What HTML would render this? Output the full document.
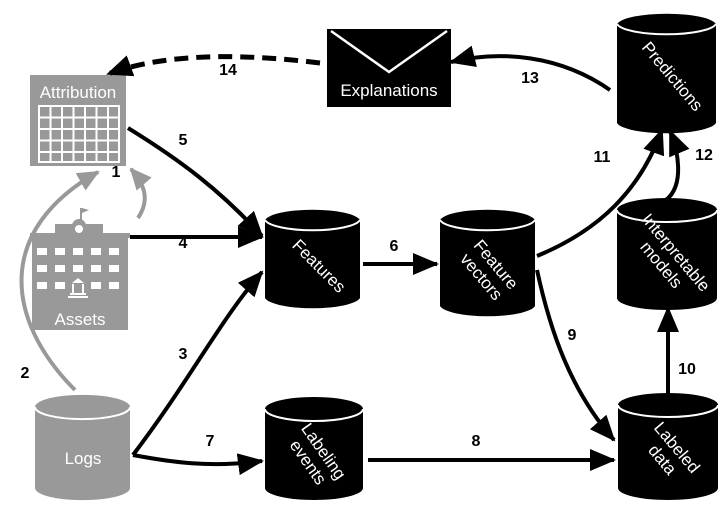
<!DOCTYPE html>
<html><head><style>
html,body{margin:0;padding:0;background:#fff;}
svg{display:block;font-family:"Liberation Sans",Arial,sans-serif;}
.n{font-size:16px;font-weight:bold;fill:#000;}
.c{font-size:17px;fill:#fff;}
</style></head><body>
<svg width="723" height="526" viewBox="0 0 723 526" xmlns="http://www.w3.org/2000/svg">
<defs>
<marker id="ahb" markerWidth="26" markerHeight="22" refX="24" refY="11" orient="auto" markerUnits="userSpaceOnUse"><path d="M0,0 L26,11 L0,22 z" fill="#000"/></marker>
<marker id="ahg" markerWidth="22" markerHeight="20" refX="20" refY="10" orient="auto" markerUnits="userSpaceOnUse"><path d="M0,0 L22,10 L0,20 z" fill="#999"/></marker>
</defs>

<!-- Grey arrow 2 behind -->
<path d="M75,390 C5,320 -5,230 98,172" fill="none" stroke="#999" stroke-width="4" marker-end="url(#ahg)"/>

<g id="cyls">
<path d="M35,407 A47,12 0 0 1 130,407 L130,488 A47,12 0 0 1 35,488 Z" fill="#999"/>
<path d="M35,407 A47,12 0 0 0 130,407" fill="none" stroke="#fff" stroke-width="2"/>
<text x="83" y="464" class="c" text-anchor="middle" font-size="19">Logs</text>

<path d="M265,409 A49,12 0 0 1 363,409 L363,488 A49,12 0 0 1 265,488 Z" fill="#000"/>
<path d="M265,409 A49,12 0 0 0 363,409" fill="none" stroke="#fff" stroke-width="2"/>
<text transform="translate(314,458) rotate(55)" class="c" text-anchor="middle"><tspan x="0" y="-6">Labeling</tspan><tspan x="0" y="13">events</tspan></text>

<path d="M618,405 A50,12 0 0 1 718,405 L718,488 A50,12 0 0 1 618,488 Z" fill="#000"/>
<path d="M618,405 A50,12 0 0 0 718,405" fill="none" stroke="#fff" stroke-width="2"/>
<text transform="translate(668,455) rotate(50)" class="c" text-anchor="middle"><tspan x="0" y="-6">Labeled</tspan><tspan x="0" y="13">data</tspan></text>

<path d="M265,220 A48,12 0 0 1 360,220 L360,298 A48,12 0 0 1 265,298 Z" fill="#000"/>
<path d="M265,220 A48,12 0 0 0 360,220" fill="none" stroke="#fff" stroke-width="2"/>
<text transform="translate(315,270) rotate(45)" class="c" text-anchor="middle">Features</text>

<path d="M440,220 A48,12 0 0 1 535,220 L535,306 A48,12 0 0 1 440,306 Z" fill="#000"/>
<path d="M440,220 A48,12 0 0 0 535,220" fill="none" stroke="#fff" stroke-width="2"/>
<text transform="translate(487,272) rotate(50)" class="c" text-anchor="middle"><tspan x="0" y="-6">Feature</tspan><tspan x="0" y="13">vectors</tspan></text>

<path d="M617,210 A50,12 0 0 1 717,210 L717,298 A50,12 0 0 1 617,298 Z" fill="#000"/>
<path d="M617,210 A50,12 0 0 0 717,210" fill="none" stroke="#fff" stroke-width="2"/>
<text transform="translate(667,260) rotate(50)" class="c" text-anchor="middle"><tspan x="0" y="-6">Interpretable</tspan><tspan x="0" y="13">models</tspan></text>

<path d="M617,24 A50,12 0 0 1 716,24 L716,123 A50,12 0 0 1 617,123 Z" fill="#000"/>
<path d="M617,24 A50,12 0 0 0 716,24" fill="none" stroke="#fff" stroke-width="2"/>
<text transform="translate(668,80) rotate(50)" class="c" text-anchor="middle">Predictions</text>
</g>

<!-- Explanations envelope -->
<rect x="327" y="29" width="124" height="78" fill="#000"/>
<path d="M331,31 L389,72 L447,31" fill="none" stroke="#fff" stroke-width="2.5"/>
<text x="389" y="96" class="c" text-anchor="middle" font-size="18">Explanations</text>

<!-- Attribution -->
<rect x="30" y="75" width="96" height="91" fill="#999"/>
<text x="78" y="98" class="c" text-anchor="middle" font-size="18">Attribution</text>
<rect x="38" y="105" width="82" height="58" fill="#fff"/>
<g fill="#999">
<rect x="40" y="107" width="9.5" height="9.5"/><rect x="51.5" y="107" width="9.5" height="9.5"/><rect x="63" y="107" width="9.5" height="9.5"/><rect x="74.5" y="107" width="9.5" height="9.5"/><rect x="86" y="107" width="9.5" height="9.5"/><rect x="97.5" y="107" width="9.5" height="9.5"/><rect x="109" y="107" width="9" height="9.5"/>
<rect x="40" y="118.5" width="9.5" height="9.5"/><rect x="51.5" y="118.5" width="9.5" height="9.5"/><rect x="63" y="118.5" width="9.5" height="9.5"/><rect x="74.5" y="118.5" width="9.5" height="9.5"/><rect x="86" y="118.5" width="9.5" height="9.5"/><rect x="97.5" y="118.5" width="9.5" height="9.5"/><rect x="109" y="118.5" width="9" height="9.5"/>
<rect x="40" y="130" width="9.5" height="9.5"/><rect x="51.5" y="130" width="9.5" height="9.5"/><rect x="63" y="130" width="9.5" height="9.5"/><rect x="74.5" y="130" width="9.5" height="9.5"/><rect x="86" y="130" width="9.5" height="9.5"/><rect x="97.5" y="130" width="9.5" height="9.5"/><rect x="109" y="130" width="9" height="9.5"/>
<rect x="40" y="141.5" width="9.5" height="9.5"/><rect x="51.5" y="141.5" width="9.5" height="9.5"/><rect x="63" y="141.5" width="9.5" height="9.5"/><rect x="74.5" y="141.5" width="9.5" height="9.5"/><rect x="86" y="141.5" width="9.5" height="9.5"/><rect x="97.5" y="141.5" width="9.5" height="9.5"/><rect x="109" y="141.5" width="9" height="9.5"/>
<rect x="40" y="153" width="9.5" height="8"/><rect x="51.5" y="153" width="9.5" height="8"/><rect x="63" y="153" width="9.5" height="8"/><rect x="74.5" y="153" width="9.5" height="8"/><rect x="86" y="153" width="9.5" height="8"/><rect x="97.5" y="153" width="9.5" height="8"/><rect x="109" y="153" width="9" height="8"/>
</g>

<!-- Assets building -->
<g fill="#999">
<rect x="30" y="233" width="100" height="5"/>
<rect x="55" y="224" width="48" height="10"/>
<rect x="32" y="238" width="96" height="92"/>
<rect x="80" y="208" width="2" height="16"/>
<path d="M82,208 L89,210 L82,213 Z"/>
<circle cx="79" cy="226" r="7"/>
</g>
<circle cx="79" cy="229" r="4" fill="#fff"/>
<g fill="#fff">
<rect x="37" y="248" width="10" height="7"/><rect x="55" y="248" width="10" height="7"/><rect x="73" y="248" width="10" height="7"/><rect x="91" y="248" width="10" height="7"/><rect x="109" y="248" width="10" height="7"/>
<rect x="37" y="265" width="10" height="7"/><rect x="55" y="265" width="10" height="7"/><rect x="73" y="265" width="10" height="7"/><rect x="91" y="265" width="10" height="7"/><rect x="109" y="265" width="10" height="7"/>
<rect x="37" y="282" width="10" height="7"/><rect x="55" y="282" width="10" height="7"/><rect x="91" y="282" width="10" height="7"/><rect x="109" y="282" width="10" height="7"/>
<path d="M72,283 L78,278 L84,283 Z"/>
<rect x="72" y="284" width="2" height="9"/><rect x="82" y="284" width="2" height="9"/>
<rect x="70" y="293" width="16" height="2"/><rect x="68" y="296" width="20" height="2"/>
</g>
<text x="80" y="325" class="c" text-anchor="middle" font-size="19">Assets</text>

<path d="M138,218 C150,200 145,185 131,169" fill="none" stroke="#999" stroke-width="4" marker-end="url(#ahg)"/>

<g fill="none" stroke="#000" stroke-width="4">
<path d="M128,128 C180,160 220,190 262,236" marker-end="url(#ahb)"/>
<path d="M130,237 L262,237" marker-end="url(#ahb)"/>
<path d="M133,455 C190,380 220,320 262,272" marker-end="url(#ahb)"/>
<path d="M133,455 C170,462 210,468 262,461" marker-end="url(#ahb)"/>
<path d="M363,264 L437,264" marker-end="url(#ahb)"/>
<path d="M368,460 L614,460" marker-end="url(#ahb)"/>
<path d="M537,270 C550,330 570,390 614,440" marker-end="url(#ahb)"/>
<path d="M537,256 C600,230 640,190 662,130" marker-end="url(#ahb)"/>
<path d="M666,200 C685,185 678,150 670,131" marker-end="url(#ahb)"/>
<path d="M668,393 L668,308" marker-end="url(#ahb)"/>
<path d="M610,90 C560,55 500,50 451,62" marker-end="url(#ahb)"/>
<path d="M320,63 C230,52 160,55 108,74" stroke-width="5" stroke-dasharray="14,8" marker-end="url(#ahb)"/>
</g>

<text x="228" y="75" class="n" text-anchor="middle">14</text>
<text x="530" y="83" class="n" text-anchor="middle">13</text>
<text x="183" y="145" class="n" text-anchor="middle">5</text>
<text x="183" y="248" class="n" text-anchor="middle">4</text>
<text x="183" y="359" class="n" text-anchor="middle">3</text>
<text x="25" y="378" class="n" text-anchor="middle">2</text>
<text x="210" y="446" class="n" text-anchor="middle">7</text>
<text x="476" y="446" class="n" text-anchor="middle">8</text>
<text x="394" y="251" class="n" text-anchor="middle">6</text>
<text x="572" y="340" class="n" text-anchor="middle">9</text>
<text x="687" y="374" class="n" text-anchor="middle">10</text>
<text x="602" y="162" class="n" text-anchor="middle">11</text>
<text x="704" y="160" class="n" text-anchor="middle">12</text>
<text x="116" y="177" class="n" text-anchor="middle">1</text>
</svg>
</body></html>
